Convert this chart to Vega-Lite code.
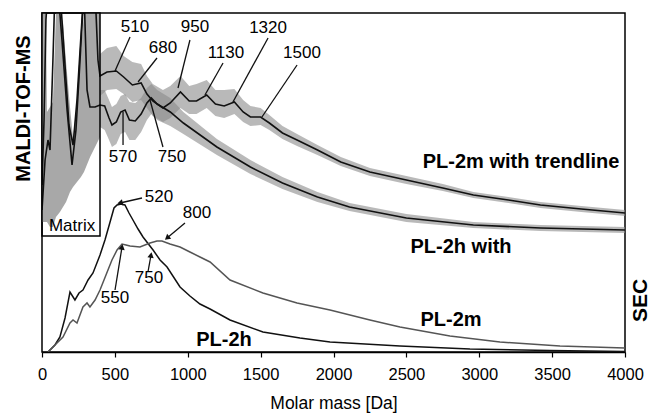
{
  "$schema": "https://vega.github.io/schema/vega-lite/v6.json",
  "width": 583,
  "height": 339,
  "autosize": {"type": "none"},
  "padding": {"left": 42, "top": 13, "right": 25, "bottom": 64},
  "background": "white",
  "config": {
    "font": "Liberation Sans",
    "view": {"stroke": "black", "strokeWidth": 1.5}
  },
  "datasets": {
    "matrix": [
      {"da": 0, "hi": 339, "lo": 130}, {"da": 27, "hi": 339, "lo": 130}, {"da": 34, "hi": 240, "lo": 130},
      {"da": 55, "hi": 245, "lo": 125}, {"da": 75, "hi": 250, "lo": 125}, {"da": 96, "hi": 339, "lo": 135},
      {"da": 123, "hi": 339, "lo": 140}, {"da": 144, "hi": 330, "lo": 145}, {"da": 165, "hi": 290, "lo": 150},
      {"da": 192, "hi": 245, "lo": 160}, {"da": 213, "hi": 214, "lo": 165}, {"da": 240, "hi": 250, "lo": 170},
      {"da": 267, "hi": 300, "lo": 175}, {"da": 288, "hi": 339, "lo": 180}, {"da": 330, "hi": 339, "lo": 195},
      {"da": 398, "hi": 339, "lo": 215}
    ],
    "bands": [
      {"series": "PL-2m", "da": 398, "hi": 298, "lo": 256}, {"series": "PL-2m", "da": 446, "hi": 304, "lo": 262},
      {"series": "PL-2m", "da": 510, "hi": 306, "lo": 263}, {"series": "PL-2m", "da": 560, "hi": 296, "lo": 258},
      {"series": "PL-2m", "da": 620, "hi": 290, "lo": 250}, {"series": "PL-2m", "da": 680, "hi": 288, "lo": 252},
      {"series": "PL-2m", "da": 720, "hi": 276, "lo": 244}, {"series": "PL-2m", "da": 760, "hi": 268, "lo": 236},
      {"series": "PL-2m", "da": 830, "hi": 262, "lo": 230}, {"series": "PL-2m", "da": 880, "hi": 266, "lo": 234},
      {"series": "PL-2m", "da": 950, "hi": 276, "lo": 244}, {"series": "PL-2m", "da": 1010, "hi": 266, "lo": 238},
      {"series": "PL-2m", "da": 1060, "hi": 268, "lo": 238}, {"series": "PL-2m", "da": 1130, "hi": 272, "lo": 244},
      {"series": "PL-2m", "da": 1190, "hi": 262, "lo": 236}, {"series": "PL-2m", "da": 1250, "hi": 262, "lo": 234},
      {"series": "PL-2m", "da": 1320, "hi": 263, "lo": 238}, {"series": "PL-2m", "da": 1380, "hi": 252, "lo": 230},
      {"series": "PL-2m", "da": 1430, "hi": 246, "lo": 226}, {"series": "PL-2m", "da": 1500, "hi": 244, "lo": 227},
      {"series": "PL-2m", "da": 1560, "hi": 237, "lo": 222}, {"series": "PL-2m", "da": 1650, "hi": 226, "lo": 213},
      {"series": "PL-2m", "da": 1750, "hi": 218, "lo": 206}, {"series": "PL-2m", "da": 1890, "hi": 207, "lo": 197},
      {"series": "PL-2m", "da": 2050, "hi": 195, "lo": 186}, {"series": "PL-2m", "da": 2250, "hi": 184, "lo": 176},
      {"series": "PL-2m", "da": 2500, "hi": 176, "lo": 168}, {"series": "PL-2m", "da": 2750, "hi": 168, "lo": 161},
      {"series": "PL-2m", "da": 2960, "hi": 160, "lo": 154}, {"series": "PL-2m", "da": 3200, "hi": 155, "lo": 149},
      {"series": "PL-2m", "da": 3420, "hi": 150, "lo": 144}, {"series": "PL-2m", "da": 3700, "hi": 146, "lo": 140},
      {"series": "PL-2m", "da": 4000, "hi": 142, "lo": 136},
      {"series": "PL-2h", "da": 398, "hi": 262, "lo": 225}, {"series": "PL-2h", "da": 430, "hi": 262, "lo": 222},
      {"series": "PL-2h", "da": 460, "hi": 252, "lo": 212}, {"series": "PL-2h", "da": 480, "hi": 245, "lo": 205},
      {"series": "PL-2h", "da": 510, "hi": 248, "lo": 208}, {"series": "PL-2h", "da": 540, "hi": 256, "lo": 218},
      {"series": "PL-2h", "da": 570, "hi": 258, "lo": 220}, {"series": "PL-2h", "da": 600, "hi": 250, "lo": 212},
      {"series": "PL-2h", "da": 640, "hi": 249, "lo": 212}, {"series": "PL-2h", "da": 680, "hi": 254, "lo": 220},
      {"series": "PL-2h", "da": 720, "hi": 264, "lo": 232}, {"series": "PL-2h", "da": 750, "hi": 268, "lo": 238},
      {"series": "PL-2h", "da": 790, "hi": 262, "lo": 232}, {"series": "PL-2h", "da": 880, "hi": 254, "lo": 226},
      {"series": "PL-2h", "da": 970, "hi": 240, "lo": 218}, {"series": "PL-2h", "da": 1200, "hi": 213, "lo": 197},
      {"series": "PL-2h", "da": 1430, "hi": 192, "lo": 178}, {"series": "PL-2h", "da": 1650, "hi": 175, "lo": 163},
      {"series": "PL-2h", "da": 1890, "hi": 160, "lo": 150}, {"series": "PL-2h", "da": 2110, "hi": 149, "lo": 141},
      {"series": "PL-2h", "da": 2500, "hi": 138, "lo": 130}, {"series": "PL-2h", "da": 2960, "hi": 130, "lo": 124},
      {"series": "PL-2h", "da": 3420, "hi": 127, "lo": 121}, {"series": "PL-2h", "da": 4000, "hi": 125, "lo": 119}
    ],
    "maldi": [
      {"series": "PL-2m", "da": 0, "s": 142}, {"series": "PL-2m", "da": 21, "s": 192}, {"series": "PL-2m", "da": 41, "s": 212},
      {"series": "PL-2m", "da": 55, "s": 202}, {"series": "PL-2m", "da": 75, "s": 292}, {"series": "PL-2m", "da": 89, "s": 362},
      {"series": "PL-2m", "da": 123, "s": 362}, {"series": "PL-2m", "da": 151, "s": 302}, {"series": "PL-2m", "da": 185, "s": 227},
      {"series": "PL-2m", "da": 213, "s": 207}, {"series": "PL-2m", "da": 240, "s": 252}, {"series": "PL-2m", "da": 274, "s": 332},
      {"series": "PL-2m", "da": 288, "s": 362}, {"series": "PL-2m", "da": 364, "s": 362}, {"series": "PL-2m", "da": 384, "s": 292},
      {"series": "PL-2m", "da": 398, "s": 276}, {"series": "PL-2m", "da": 446, "s": 280}, {"series": "PL-2m", "da": 510, "s": 281},
      {"series": "PL-2m", "da": 560, "s": 275}, {"series": "PL-2m", "da": 620, "s": 267}, {"series": "PL-2m", "da": 680, "s": 269},
      {"series": "PL-2m", "da": 720, "s": 258}, {"series": "PL-2m", "da": 760, "s": 251}, {"series": "PL-2m", "da": 830, "s": 244},
      {"series": "PL-2m", "da": 880, "s": 249}, {"series": "PL-2m", "da": 950, "s": 260}, {"series": "PL-2m", "da": 1010, "s": 251},
      {"series": "PL-2m", "da": 1060, "s": 251}, {"series": "PL-2m", "da": 1130, "s": 257}, {"series": "PL-2m", "da": 1190, "s": 248},
      {"series": "PL-2m", "da": 1250, "s": 246}, {"series": "PL-2m", "da": 1320, "s": 250}, {"series": "PL-2m", "da": 1380, "s": 240},
      {"series": "PL-2m", "da": 1430, "s": 235}, {"series": "PL-2m", "da": 1500, "s": 235}, {"series": "PL-2m", "da": 1560, "s": 229},
      {"series": "PL-2m", "da": 1650, "s": 219}, {"series": "PL-2m", "da": 1750, "s": 212}, {"series": "PL-2m", "da": 1890, "s": 202},
      {"series": "PL-2m", "da": 2050, "s": 190}, {"series": "PL-2m", "da": 2250, "s": 180}, {"series": "PL-2m", "da": 2500, "s": 172},
      {"series": "PL-2m", "da": 2750, "s": 164}, {"series": "PL-2m", "da": 2960, "s": 157}, {"series": "PL-2m", "da": 3200, "s": 152},
      {"series": "PL-2m", "da": 3420, "s": 147}, {"series": "PL-2m", "da": 3700, "s": 143}, {"series": "PL-2m", "da": 4000, "s": 139},
      {"series": "PL-2h", "da": 0, "s": 167}, {"series": "PL-2h", "da": 14, "s": 232}, {"series": "PL-2h", "da": 27, "s": 332},
      {"series": "PL-2h", "da": 41, "s": 362}, {"series": "PL-2h", "da": 110, "s": 362}, {"series": "PL-2h", "da": 137, "s": 312},
      {"series": "PL-2h", "da": 172, "s": 242}, {"series": "PL-2h", "da": 206, "s": 187}, {"series": "PL-2h", "da": 233, "s": 222},
      {"series": "PL-2h", "da": 261, "s": 292}, {"series": "PL-2h", "da": 288, "s": 362}, {"series": "PL-2h", "da": 309, "s": 262},
      {"series": "PL-2h", "da": 329, "s": 245}, {"series": "PL-2h", "da": 364, "s": 245}, {"series": "PL-2h", "da": 398, "s": 247},
      {"series": "PL-2h", "da": 430, "s": 246}, {"series": "PL-2h", "da": 460, "s": 234}, {"series": "PL-2h", "da": 480, "s": 227},
      {"series": "PL-2h", "da": 510, "s": 230}, {"series": "PL-2h", "da": 540, "s": 240}, {"series": "PL-2h", "da": 570, "s": 242},
      {"series": "PL-2h", "da": 600, "s": 232}, {"series": "PL-2h", "da": 640, "s": 231}, {"series": "PL-2h", "da": 680, "s": 238},
      {"series": "PL-2h", "da": 720, "s": 249}, {"series": "PL-2h", "da": 750, "s": 254}, {"series": "PL-2h", "da": 790, "s": 248},
      {"series": "PL-2h", "da": 880, "s": 240}, {"series": "PL-2h", "da": 970, "s": 229}, {"series": "PL-2h", "da": 1200, "s": 205},
      {"series": "PL-2h", "da": 1430, "s": 185}, {"series": "PL-2h", "da": 1650, "s": 169}, {"series": "PL-2h", "da": 1890, "s": 155},
      {"series": "PL-2h", "da": 2110, "s": 145}, {"series": "PL-2h", "da": 2500, "s": 134}, {"series": "PL-2h", "da": 2960, "s": 127},
      {"series": "PL-2h", "da": 3420, "s": 124}, {"series": "PL-2h", "da": 4000, "s": 122}
    ],
    "sec": [
      {"series": "PL-2h", "da": 41, "s": 0}, {"series": "PL-2h", "da": 89, "s": 7}, {"series": "PL-2h", "da": 123, "s": 15},
      {"series": "PL-2h", "da": 158, "s": 34}, {"series": "PL-2h", "da": 192, "s": 60}, {"series": "PL-2h", "da": 226, "s": 52},
      {"series": "PL-2h", "da": 254, "s": 59}, {"series": "PL-2h", "da": 281, "s": 62}, {"series": "PL-2h", "da": 316, "s": 72},
      {"series": "PL-2h", "da": 350, "s": 79}, {"series": "PL-2h", "da": 398, "s": 97}, {"series": "PL-2h", "da": 432, "s": 112},
      {"series": "PL-2h", "da": 467, "s": 130}, {"series": "PL-2h", "da": 494, "s": 144}, {"series": "PL-2h", "da": 515, "s": 147},
      {"series": "PL-2h", "da": 542, "s": 148}, {"series": "PL-2h", "da": 569, "s": 147}, {"series": "PL-2h", "da": 597, "s": 139},
      {"series": "PL-2h", "da": 624, "s": 132}, {"series": "PL-2h", "da": 659, "s": 123}, {"series": "PL-2h", "da": 693, "s": 115},
      {"series": "PL-2h", "da": 762, "s": 102}, {"series": "PL-2h", "da": 810, "s": 92}, {"series": "PL-2h", "da": 858, "s": 85},
      {"series": "PL-2h", "da": 947, "s": 65}, {"series": "PL-2h", "da": 1015, "s": 56}, {"series": "PL-2h", "da": 1084, "s": 48},
      {"series": "PL-2h", "da": 1153, "s": 43}, {"series": "PL-2h", "da": 1290, "s": 32}, {"series": "PL-2h", "da": 1516, "s": 20},
      {"series": "PL-2h", "da": 1770, "s": 14}, {"series": "PL-2h", "da": 1976, "s": 10}, {"series": "PL-2h", "da": 2456, "s": 6},
      {"series": "PL-2h", "da": 2936, "s": 3}, {"series": "PL-2h", "da": 3485, "s": 1.5}, {"series": "PL-2h", "da": 4000, "s": 0.5},
      {"series": "PL-2m", "da": 41, "s": 0}, {"series": "PL-2m", "da": 89, "s": 7}, {"series": "PL-2m", "da": 144, "s": 15},
      {"series": "PL-2m", "da": 192, "s": 29}, {"series": "PL-2m", "da": 213, "s": 32}, {"series": "PL-2m", "da": 240, "s": 29},
      {"series": "PL-2m", "da": 281, "s": 45}, {"series": "PL-2m", "da": 309, "s": 49}, {"series": "PL-2m", "da": 329, "s": 45},
      {"series": "PL-2m", "da": 364, "s": 52}, {"series": "PL-2m", "da": 398, "s": 62}, {"series": "PL-2m", "da": 439, "s": 77},
      {"series": "PL-2m", "da": 480, "s": 92}, {"series": "PL-2m", "da": 515, "s": 102}, {"series": "PL-2m", "da": 549, "s": 108},
      {"series": "PL-2m", "da": 576, "s": 107}, {"series": "PL-2m", "da": 604, "s": 106}, {"series": "PL-2m", "da": 672, "s": 105},
      {"series": "PL-2m", "da": 741, "s": 109}, {"series": "PL-2m", "da": 789, "s": 111}, {"series": "PL-2m", "da": 823, "s": 111},
      {"series": "PL-2m", "da": 878, "s": 108}, {"series": "PL-2m", "da": 947, "s": 105}, {"series": "PL-2m", "da": 1015, "s": 100},
      {"series": "PL-2m", "da": 1084, "s": 95}, {"series": "PL-2m", "da": 1153, "s": 90}, {"series": "PL-2m", "da": 1290, "s": 72},
      {"series": "PL-2m", "da": 1516, "s": 59}, {"series": "PL-2m", "da": 1750, "s": 49}, {"series": "PL-2m", "da": 1976, "s": 42},
      {"series": "PL-2m", "da": 2250, "s": 32}, {"series": "PL-2m", "da": 2456, "s": 25}, {"series": "PL-2m", "da": 2799, "s": 16},
      {"series": "PL-2m", "da": 3142, "s": 10}, {"series": "PL-2m", "da": 3554, "s": 6}, {"series": "PL-2m", "da": 4000, "s": 4}
    ],
    "arrows": [
      {"lab": "510", "da1": 604, "s1": 315, "da2": 501, "s2": 281, "head": false, "dir": 0},
      {"lab": "680", "da1": 789, "s1": 294, "da2": 659, "s2": 270, "head": false, "dir": 0},
      {"lab": "950", "da1": 1015, "s1": 312, "da2": 933, "s2": 264, "head": false, "dir": 0},
      {"lab": "1130", "da1": 1242, "s1": 289, "da2": 1118, "s2": 257, "head": false, "dir": 0},
      {"lab": "1320", "da1": 1551, "s1": 314, "da2": 1310, "s2": 250, "head": false, "dir": 0},
      {"lab": "1500", "da1": 1750, "s1": 287, "da2": 1509, "s2": 235, "head": false, "dir": 0},
      {"lab": "570", "da1": 556, "s1": 207, "da2": 556, "s2": 240, "head": false, "dir": 0},
      {"lab": "750", "da1": 830, "s1": 205, "da2": 741, "s2": 252, "head": false, "dir": 0},
      {"lab": "520", "da1": 686, "s1": 154, "da2": 535, "s2": 149, "head": true, "dir": 257},
      {"lab": "800", "da1": 981, "s1": 129, "da2": 858, "s2": 114, "head": true, "dir": 230},
      {"lab": "550", "da1": 501, "s1": 62, "da2": 549, "s2": 105, "head": true, "dir": 9},
      {"lab": "750", "da1": 727, "s1": 80, "da2": 748, "s2": 97, "head": true, "dir": 10}
    ],
    "labels": [
      {"text": "510", "da": 638, "s": 325}, {"text": "680", "da": 830, "s": 304}, {"text": "950", "da": 1050, "s": 325},
      {"text": "1130", "da": 1262, "s": 299}, {"text": "1320", "da": 1551, "s": 324}, {"text": "1500", "da": 1784, "s": 299},
      {"text": "570", "da": 556, "s": 195}, {"text": "750", "da": 892, "s": 195},
      {"text": "520", "da": 803, "s": 155}, {"text": "800", "da": 1063, "s": 139},
      {"text": "550", "da": 501, "s": 54}, {"text": "750", "da": 734, "s": 74},
      {"text": "Matrix", "da": 206, "s": 126}
    ],
    "names": [
      {"text": "PL-2m with trendline", "da": 3287, "s": 190},
      {"text": "PL-2h with", "da": 2875, "s": 105},
      {"text": "PL-2m", "da": 2806, "s": 32},
      {"text": "PL-2h", "da": 1249, "s": 12}
    ]
  },
  "resolve": {"axis": {"y": "independent"}},
  "layer": [
    {
      "data": {"name": "matrix"},
      "mark": {"type": "area", "color": "#a8a8a8", "clip": true},
      "encoding": {
        "x": {"field": "da", "type": "quantitative", "scale": {"domain": [0, 4000], "nice": false, "zero": false}, "title": "Molar mass [Da]",
              "axis": {"values": [0, 500, 1000, 1500, 2000, 2500, 3000, 3500, 4000], "format": "d", "labelFontSize": 16.5, "labelColor": "black",
                       "titleFontSize": 17.5, "titleFontWeight": "normal", "titleColor": "black", "domainColor": "black", "domainWidth": 1.5,
                       "tickColor": "black", "tickSize": 5, "tickWidth": 1.2, "labelPadding": 9, "titlePadding": 12, "grid": false, "labelFlush": false}},
        "y": {"field": "hi", "type": "quantitative", "scale": {"domain": [0, 339], "nice": false, "zero": false},
              "axis": {"orient": "left", "title": "MALDI-TOF-MS", "labels": false, "ticks": false, "domain": false, "grid": false,
                       "titleFontSize": 20, "titleFontWeight": "bold", "titleColor": "black", "titleAngle": 270,
                       "titleX": -19, "titleY": 95, "titleAlign": "center", "titleBaseline": "middle"}},
        "y2": {"field": "lo"}
      }
    },
    {
      "data": {"name": "bands"},
      "mark": {"type": "area", "color": "#8a8a8a", "opacity": 0.6, "clip": true},
      "encoding": {
        "x": {"field": "da", "type": "quantitative", "title": "Molar mass [Da]"},
        "y": {"field": "hi", "type": "quantitative", "axis": null},
        "y2": {"field": "lo"},
        "detail": {"field": "series"}
      }
    },
    {
      "data": {"name": "maldi"},
      "mark": {"type": "line", "color": "#111111", "strokeWidth": 1.6, "clip": true},
      "encoding": {
        "x": {"field": "da", "type": "quantitative", "title": "Molar mass [Da]"},
        "y": {"field": "s", "type": "quantitative", "axis": null},
        "detail": {"field": "series"}
      }
    },
    {
      "data": {"values": [{"region": "Matrix", "da0": 0, "da1": 398, "s0": 116, "s1": 339}]},
      "mark": {"type": "rect", "fill": null, "fillOpacity": 0, "stroke": "black", "strokeWidth": 1.5},
      "encoding": {
        "x": {"field": "da0", "type": "quantitative", "title": "Molar mass [Da]"},
        "x2": {"field": "da1"},
        "y": {"field": "s0", "type": "quantitative", "axis": null},
        "y2": {"field": "s1"}
      }
    },
    {
      "data": {"name": "sec"},
      "mark": {"type": "line", "strokeWidth": 1.5, "clip": true},
      "encoding": {
        "x": {"field": "da", "type": "quantitative", "title": "Molar mass [Da]"},
        "y": {"field": "s", "type": "quantitative",
              "axis": {"orient": "right", "title": "SEC", "labels": false, "ticks": false, "domain": false, "grid": false,
                       "titleFontSize": 21, "titleFontWeight": "bold", "titleColor": "black", "titleAngle": 270,
                       "titleX": 15, "titleY": 287, "titleAlign": "center", "titleBaseline": "middle"}},
        "color": {"field": "series", "type": "nominal", "scale": {"domain": ["PL-2h", "PL-2m"], "range": ["#111111", "#555555"]}, "legend": null}
      }
    },
    {
      "data": {"name": "arrows"},
      "mark": {"type": "rule", "color": "#111111", "strokeWidth": 1.3},
      "encoding": {
        "x": {"field": "da1", "type": "quantitative", "title": "Molar mass [Da]"},
        "y": {"field": "s1", "type": "quantitative", "axis": null},
        "x2": {"field": "da2"},
        "y2": {"field": "s2"}
      }
    },
    {
      "data": {"name": "arrows"},
      "transform": [{"filter": "datum.head"}],
      "mark": {"type": "point", "shape": "triangle-up", "filled": true, "color": "#111111", "size": 40, "opacity": 1},
      "encoding": {
        "x": {"field": "da2", "type": "quantitative", "title": "Molar mass [Da]"},
        "y": {"field": "s2", "type": "quantitative", "axis": null},
        "angle": {"field": "dir", "type": "quantitative", "scale": null}
      }
    },
    {
      "data": {"name": "labels"},
      "mark": {"type": "text", "fontSize": 17, "color": "black", "align": "center", "baseline": "middle"},
      "encoding": {
        "x": {"field": "da", "type": "quantitative", "title": "Molar mass [Da]"},
        "y": {"field": "s", "type": "quantitative", "axis": null},
        "text": {"field": "text"}
      }
    },
    {
      "data": {"name": "names"},
      "mark": {"type": "text", "fontSize": 20, "fontWeight": "bold", "color": "black", "align": "center", "baseline": "middle"},
      "encoding": {
        "x": {"field": "da", "type": "quantitative", "title": "Molar mass [Da]"},
        "y": {"field": "s", "type": "quantitative", "axis": null},
        "text": {"field": "text"}
      }
    }
  ]
}
